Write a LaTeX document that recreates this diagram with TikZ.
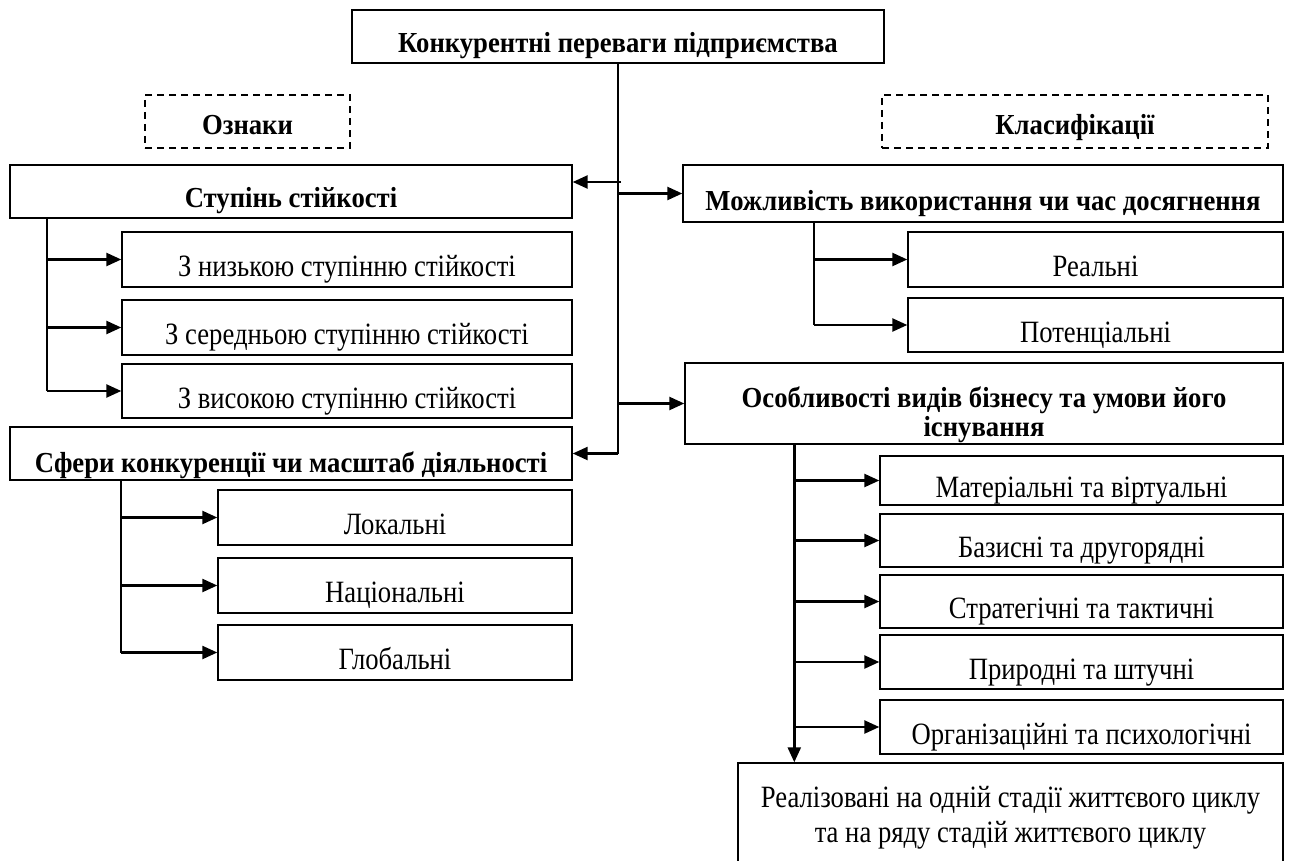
\documentclass[tikz,border=0pt]{standalone}
\usepackage{fontspec}
\setmainfont{Liberation Serif}
\newfontfamily\regfont{Liberation Serif}[FakeStretch=0.86]
\newfontfamily\boldfont{Liberation Serif}[FakeStretch=0.92,BoldFont={Liberation Serif Bold}]
\usetikzlibrary{arrows.meta}
\begin{document}
\begin{tikzpicture}[x=1pt,y=-1pt,
  frame/.style={draw, line width=1.4pt, inner sep=2pt},
  rfont/.style={font=\regfont\fontsize{31}{34}\selectfont},
  bfont/.style={font=\boldfont\bfseries\fontsize{29}{32}\selectfont},
  box/.style={frame, align=center, rfont, text height=#1, text depth=0pt},
  box/.default=34pt,
  hbox/.style={frame, align=center, bfont, text height=#1, text depth=0pt},
  hbox/.default=32pt,
  dbox/.style={hbox=#1, dash pattern=on 7pt off 5pt, line width=1.6pt},
  dbox/.default=27pt,
  txt/.style={anchor=base, inner sep=0pt, rfont},
  htxt/.style={anchor=base, inner sep=0pt, bfont},
  link/.style={line width=1.8pt},
  arr/.style={line width=2.4pt, -{Triangle[length=15pt,width=13pt]}}]
\useasboundingbox (0,0) rectangle (1305,861);
\clip (0,0) rectangle (1305,861);
% header and labels
\node[hbox=33pt, minimum width=532pt, minimum height=53pt] (top) at (618,36.5) {Конкурентні переваги підприємства};
\node[dbox, minimum width=205pt, minimum height=53pt] (ozn) at (247.5,121.5) {Ознаки};
\node[dbox, minimum width=386pt, minimum height=53pt] (kls) at (1075,121.5) {Класифікації};
% left side
\node[hbox=31pt, minimum width=562pt, minimum height=53pt] (stup) at (291,191.5) {Ступінь стійкості};
\node[box, minimum width=450pt, minimum height=55pt] (low) at (347,259.5) {З низькою ступінню стійкості};
\node[box, minimum width=450pt, minimum height=55pt] (mid) at (347,327.5) {З середньою ступінню стійкості};
\node[box, minimum width=450pt, minimum height=54pt] (high) at (347,391) {З високою ступінню стійкості};
\node[hbox=38pt, minimum width=562pt, minimum height=53pt] (sfer) at (291,453.5) {Сфери конкуренції чи масштаб діяльності};
\node[box, minimum width=354pt, minimum height=55pt] (lok) at (395,517.5) {Локальні};
\node[box, minimum width=354pt, minimum height=55pt] (nat) at (395,585.5) {Національні};
\node[box, minimum width=354pt, minimum height=55pt] (glob) at (395,652.5) {Глобальні};
% right side
\node[hbox=33pt, minimum width=600pt, minimum height=57pt] (mozh) at (983,193.5) {Можливість використання чи час досягнення};
\node[box, minimum width=375pt, minimum height=55pt] (real) at (1095.5,259.5) {Реальні};
\node[box, minimum width=375pt, minimum height=54pt] (pot) at (1095.5,325) {Потенціальні};
\node[frame, minimum width=598pt, minimum height=81pt] (osob) at (984,403.5) {};
\node[htxt] (osob1) at (984,407) {Особливості видів бізнесу та умови його};
\node[htxt] (osob2) at (984,436) {існування};
\node[box=33pt, minimum width=403pt, minimum height=49pt] (mat) at (1081.5,480.5) {Матеріальні та віртуальні};
\node[box, minimum width=403pt, minimum height=53pt] (baz) at (1081.5,540.5) {Базисні та другорядні};
\node[box, minimum width=403pt, minimum height=53pt] (str) at (1081.5,601.5) {Стратегічні та тактичні};
\node[box, minimum width=403pt, minimum height=54pt] (pryr) at (1081.5,662) {Природні та штучні};
\node[box, minimum width=403pt, minimum height=54pt] (org) at (1081.5,727) {Організаційні та психологічні};
\node[frame, minimum width=545pt, minimum height=107pt] (fin) at (1010.5,816.5) {};
\node[txt] (fin1) at (1010.5,807) {Реалізовані на одній стадії життєвого циклу};
\node[txt] (fin2) at (1010.5,842) {та на ряду стадій життєвого циклу};
% trunk
\draw[line width=1.5pt] (top.south) -- (top.south |- sfer.east);
\coordinate (j1) at (621,182);
\draw[arr] (j1) -- (j1 -| stup.east);
\draw[arr] (top.south |- mozh.west) -- (mozh.west);
\draw[arr] (top.south |- osob.west) -- (osob.west);
\draw[arr] (top.south |- sfer.east) -- (sfer.east);
% stup branch
\draw[link] (stup.south west) ++(38,0) coordinate (sb) -- (sb |- high.west);
\foreach \n in {low,mid,high} \draw[arr] (sb |- \n.west) -- (\n.west);
% sfer branch
\draw[link] (sfer.south west) ++(112,0) coordinate (fb) -- (fb |- glob.west);
\foreach \n in {lok,nat,glob} \draw[arr] (fb |- \n.west) -- (\n.west);
% mozh branch
\draw[link] (mozh.south west) ++(132,0) coordinate (mb) -- (mb |- pot.west);
\foreach \n in {real,pot} \draw[arr] (mb |- \n.west) -- (\n.west);
% osob branch
\coordinate (ob) at ([xshift=110pt]osob.south west);
\draw[arr] (ob) -- (ob |- fin.north);
\foreach \n in {mat,baz,str,pryr,org} \draw[arr] (ob |- \n.west) -- (\n.west);
\end{tikzpicture}
\end{document}
